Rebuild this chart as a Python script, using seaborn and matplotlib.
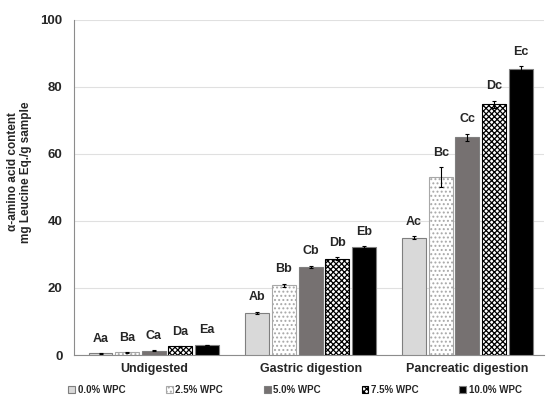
import pandas as pd
import matplotlib
matplotlib.use("Agg")
import matplotlib.pyplot as plt
import seaborn as sns
from matplotlib.patches import Patch

# Values
stages = ["Undigested", "Gastric digestion", "Pancreatic digestion"]
levels = ["0.0% WPC", "2.5% WPC", "5.0% WPC", "7.5% WPC", "10.0% WPC"]
means = {
    "0.0% WPC": [0.5, 12.6, 35.0],
    "2.5% WPC": [0.8, 20.8, 53.0],
    "5.0% WPC": [1.3, 26.4, 65.0],
    "7.5% WPC": [2.6, 28.8, 74.8],
    "10.0% WPC": [3.0, 32.2, 85.3],
}
errors = {
    "0.0% WPC": [0.1, 0.3, 0.5],
    "2.5% WPC": [0.1, 0.5, 3.0],
    "5.0% WPC": [0.1, 0.3, 1.0],
    "7.5% WPC": [0.1, 0.4, 1.1],
    "10.0% WPC": [0.1, 0.2, 0.8],
}
letters = {
    "0.0% WPC": ["Aa", "Ab", "Ac"],
    "2.5% WPC": ["Ba", "Bb", "Bc"],
    "5.0% WPC": ["Ca", "Cb", "Cc"],
    "7.5% WPC": ["Da", "Db", "Dc"],
    "10.0% WPC": ["Ea", "Eb", "Ec"],
}

rows = []
for lv in levels:
    for i, st in enumerate(stages):
        rows.append({"stage": st, "level": lv, "value": means[lv][i],
                     "err": errors[lv][i], "label": letters[lv][i]})
df = pd.DataFrame(rows)

face = ["#d9d9d9", "white", "#767171", "white", "black"]
hatch = [None, "....", None, "xxxxxx", None]
hatch_edge = ["#7f7f7f", "#a8a8a8", "#7f7f7f", "black", "#7f7f7f"]

sns.set_style("white")
plt.rcParams["font.family"] = ["Liberation Sans", "DejaVu Sans"]
plt.rcParams["font.weight"] = "bold"
plt.rcParams["hatch.linewidth"] = 0.9

fig = plt.figure(figsize=(5.47, 3.98), dpi=100)
ax = fig.add_axes([0.135, 0.108, 0.86, 0.842])

sns.barplot(data=df, x="stage", y="value", hue="level", order=stages,
            hue_order=levels, palette=face, width=0.85, gap=0.1,
            edgecolor="#7f7f7f", linewidth=0.8, errorbar=None,
            legend=False, ax=ax, zorder=3)

# style each bar, add error bars and letters
for j, (lv, cont) in enumerate(zip(levels, ax.containers)):
    for i, bar in enumerate(cont):
        bar.set_facecolor(face[j])
        if hatch[j]:
            bar.set_hatch(hatch[j])
            bar.set_edgecolor(hatch_edge[j])
        cx = bar.get_x() + bar.get_width() / 2
        h = bar.get_height()
        e = errors[lv][i]
        ax.errorbar(cx, h, yerr=e, color="black", capsize=1.5,
                    elinewidth=0.8, capthick=0.8, zorder=4)
        ax.text(cx, h + e + 2.5, letters[lv][i], ha="center", va="bottom",
                fontsize=9, fontweight="bold")

ax.set_ylim(0, 100)
ax.set_xlim(-0.51, 2.49)
ax.set_yticks([0, 20, 40, 60, 80, 100])
ax.grid(axis="y", color="#e0e0e0", linewidth=0.8, zorder=0)
ax.set_axisbelow(True)
for s in ["top", "right"]:
    ax.spines[s].set_visible(False)
ax.spines["left"].set_color("#8c8c8c")
ax.spines["bottom"].set_color("#8c8c8c")
ax.tick_params(axis="y", length=0, labelsize=9.5, pad=8)
ax.tick_params(axis="x", length=0, labelsize=9, pad=6)
for t in ax.get_xticklabels() + ax.get_yticklabels():
    t.set_fontweight("bold")
ax.set_xlabel("")
ax.set_ylabel("α-amino acid content\nmg Leucine Eq./g sample",
              fontsize=8.5, fontweight="bold")
ax.yaxis.set_label_coords(-0.088, 0.546)

handles = [Patch(facecolor=face[k], edgecolor=hatch_edge[k], hatch=hatch[k],
                 linewidth=0.8) for k in range(5)]
ax.legend(handles, levels, loc="center", bbox_to_anchor=(0.47, -0.105),
          ncol=5, frameon=False, handlelength=0.7,
          handleheight=0.7, handletextpad=0.25, columnspacing=4.2,
          prop={"weight": "bold", "size": 7})

fig.savefig("out.png", dpi=100)
